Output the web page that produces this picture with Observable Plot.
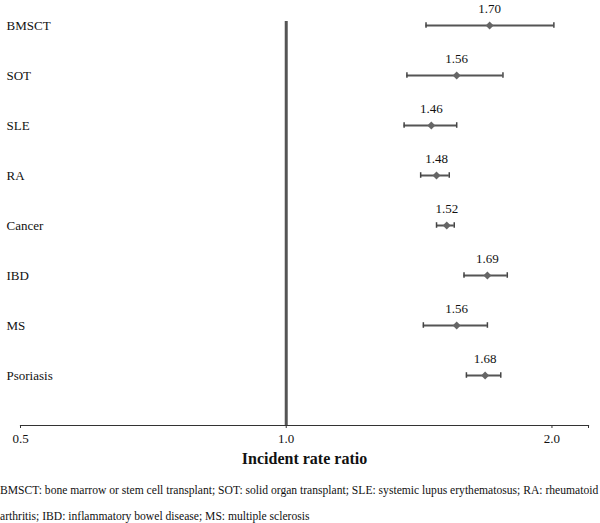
<!DOCTYPE html>
<html>
<head>
<meta charset="utf-8">
<script src="https://cdn.jsdelivr.net/npm/d3@7"></script>
<script src="https://cdn.jsdelivr.net/npm/@observablehq/plot@0.6"></script>
<style>
  html, body { margin: 0; padding: 0; background: #fff; }
  #chart { width: 600px; font-family: "Liberation Serif", "DejaVu Serif", "Times New Roman", serif; }
  #chart svg, #chart svg text { font-family: "Liberation Serif", "DejaVu Serif", "Times New Roman", serif !important; }
  .caption { font-family: "Liberation Serif", "DejaVu Serif", "Times New Roman", serif; font-size: 11.6px; line-height: 26px; color: #111; margin-top: 3px; white-space: nowrap; }
</style>
</head>
<body>
<div id="chart"></div>
<script>
const categories = ["BMSCT", "SOT", "SLE", "RA", "Cancer", "IBD", "MS", "Psoriasis"];
const irr   = [1.70, 1.56, 1.46, 1.48, 1.52, 1.69, 1.56, 1.68];
const lower = [1.44, 1.37, 1.36, 1.42, 1.48, 1.59, 1.43, 1.60];
const upper = [2.01, 1.76, 1.56, 1.53, 1.55, 1.78, 1.69, 1.75];
const xTicks = [0.5, 1.0, 2.0, 2.2];
const xTickLabels = ["0.5", "1.0", "2.0", ""];
const xTitle = "Incident rate ratio";
const captionLines = [
  "BMSCT: bone marrow or stem cell transplant; SOT: solid organ transplant; SLE: systemic lupus erythematosus; RA: rheumatoid",
  "arthritis; IBD: inflammatory bowel disease; MS: multiple sclerosis"
];

const data = categories.map((name, i) => ({name, irr: irr[i], lo: lower[i], hi: upper[i]}));

const bw = (376 - 23) / 7;
const capInset = bw / 2 - 3;
const serif = "Liberation Serif, DejaVu Serif, Times New Roman, serif";

const plot = Plot.plot({
  width: 600,
  height: 475,
  marginTop: 21,
  marginBottom: 50,
  marginLeft: 20,
  marginRight: 12,
  style: {fontFamily: serif, fontSize: "13px", color: "#111", background: "#fff"},
  x: {type: "log", domain: [0.5, 2.2], label: null},
  y: {type: "band", domain: categories, range: [23 - bw / 2, 376 + bw / 2], padding: 0, label: null},
  marks: [
    Plot.ruleX([1], {stroke: "#555", strokeWidth: 3}),
    Plot.ruleY(data, {y: "name", x1: "lo", x2: "hi", stroke: "#555", strokeWidth: 2}),
    Plot.tickX(data, {x: "lo", y: "name", stroke: "#444", strokeWidth: 1.5, insetTop: capInset, insetBottom: capInset}),
    Plot.tickX(data, {x: "hi", y: "name", stroke: "#444", strokeWidth: 1.5, insetTop: capInset, insetBottom: capInset}),
    Plot.dot(data, {x: "irr", y: "name", symbol: "diamond2", r: 3.6, fill: "#666", stroke: "none"}),
    Plot.text(data, {x: "irr", y: "name", text: d => d.irr.toFixed(2), dy: -17, fontSize: 13, fontFamily: serif, fill: "#111"}),
    Plot.axisY({tickSize: 0, tickPadding: 0, textAnchor: "start", dx: -14, fontSize: 13, fontFamily: serif, label: null, fill: "#111"}),
    Plot.axisX({ticks: xTicks, tickFormat: d => xTickLabels[xTicks.indexOf(d)], tickSize: 3, tickPadding: 5, fontSize: 13, fontFamily: serif, label: null, stroke: "#333"}),
    Plot.frame({anchor: "bottom", stroke: "#333", strokeWidth: 1.2}),
    Plot.text([xTitle], {frameAnchor: "bottom", dy: 38, fontSize: 16, fontWeight: "bold", fontFamily: serif, fill: "#111"})
  ]
});
document.getElementById("chart").appendChild(plot);

const cap = document.createElement("div");
cap.className = "caption";
captionLines.forEach(t => { const d = document.createElement("div"); d.textContent = t; cap.appendChild(d); });
document.getElementById("chart").appendChild(cap);
</script>
</body>
</html>
